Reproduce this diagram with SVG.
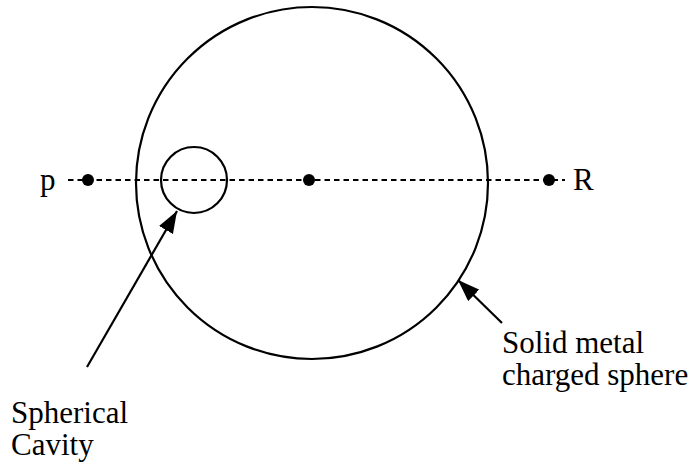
<svg xmlns="http://www.w3.org/2000/svg" width="696" height="467" viewBox="0 0 696 467">
<style>
.ln{fill:none;stroke:#000;stroke-width:2.2}
.dash{fill:none;stroke:#000;stroke-width:2.2;stroke-dasharray:5.5 4}
.dot{fill:#000}
.t{font-family:'Liberation Serif','Times New Roman','DejaVu Serif',serif;font-size:31px;fill:#000}
</style>
<defs>
<marker id="ah2" viewBox="0 0 22 16" refX="22" refY="8" markerWidth="22" markerHeight="16" markerUnits="userSpaceOnUse" orient="auto">
<path d="M0,0 L22,8 L0,16 Z" fill="#000"/>
</marker>
</defs>
<g id="sphere"><circle class="ln" cx="312" cy="183" r="176"/></g>
<g id="cavity"><circle class="ln" cx="194" cy="180" r="33"/></g>
<g id="axis"><line class="dash" x1="68" y1="180" x2="565" y2="180"/></g>
<g id="point-p"><circle class="dot" cx="88" cy="180" r="6"/><text class="t" x="40" y="190">p</text></g>
<g id="point-center"><circle class="dot" cx="309" cy="180" r="6"/></g>
<g id="point-R"><circle class="dot" cx="549" cy="180" r="6"/><text class="t" x="573" y="190">R</text></g>
<g id="connectors">
<line class="ln" x1="87" y1="367" x2="177" y2="211" marker-end="url(#ah2)"/>
<line class="ln" x1="502" y1="323" x2="458" y2="280" marker-end="url(#ah2)"/>
</g>
<g id="label-cavity"><text class="t" x="11" y="423">Spherical</text><text class="t" x="11" y="455">Cavity</text></g>
<g id="label-sphere"><text class="t" x="502" y="353">Solid metal</text><text class="t" x="502" y="385">charged sphere</text></g>
</svg>
